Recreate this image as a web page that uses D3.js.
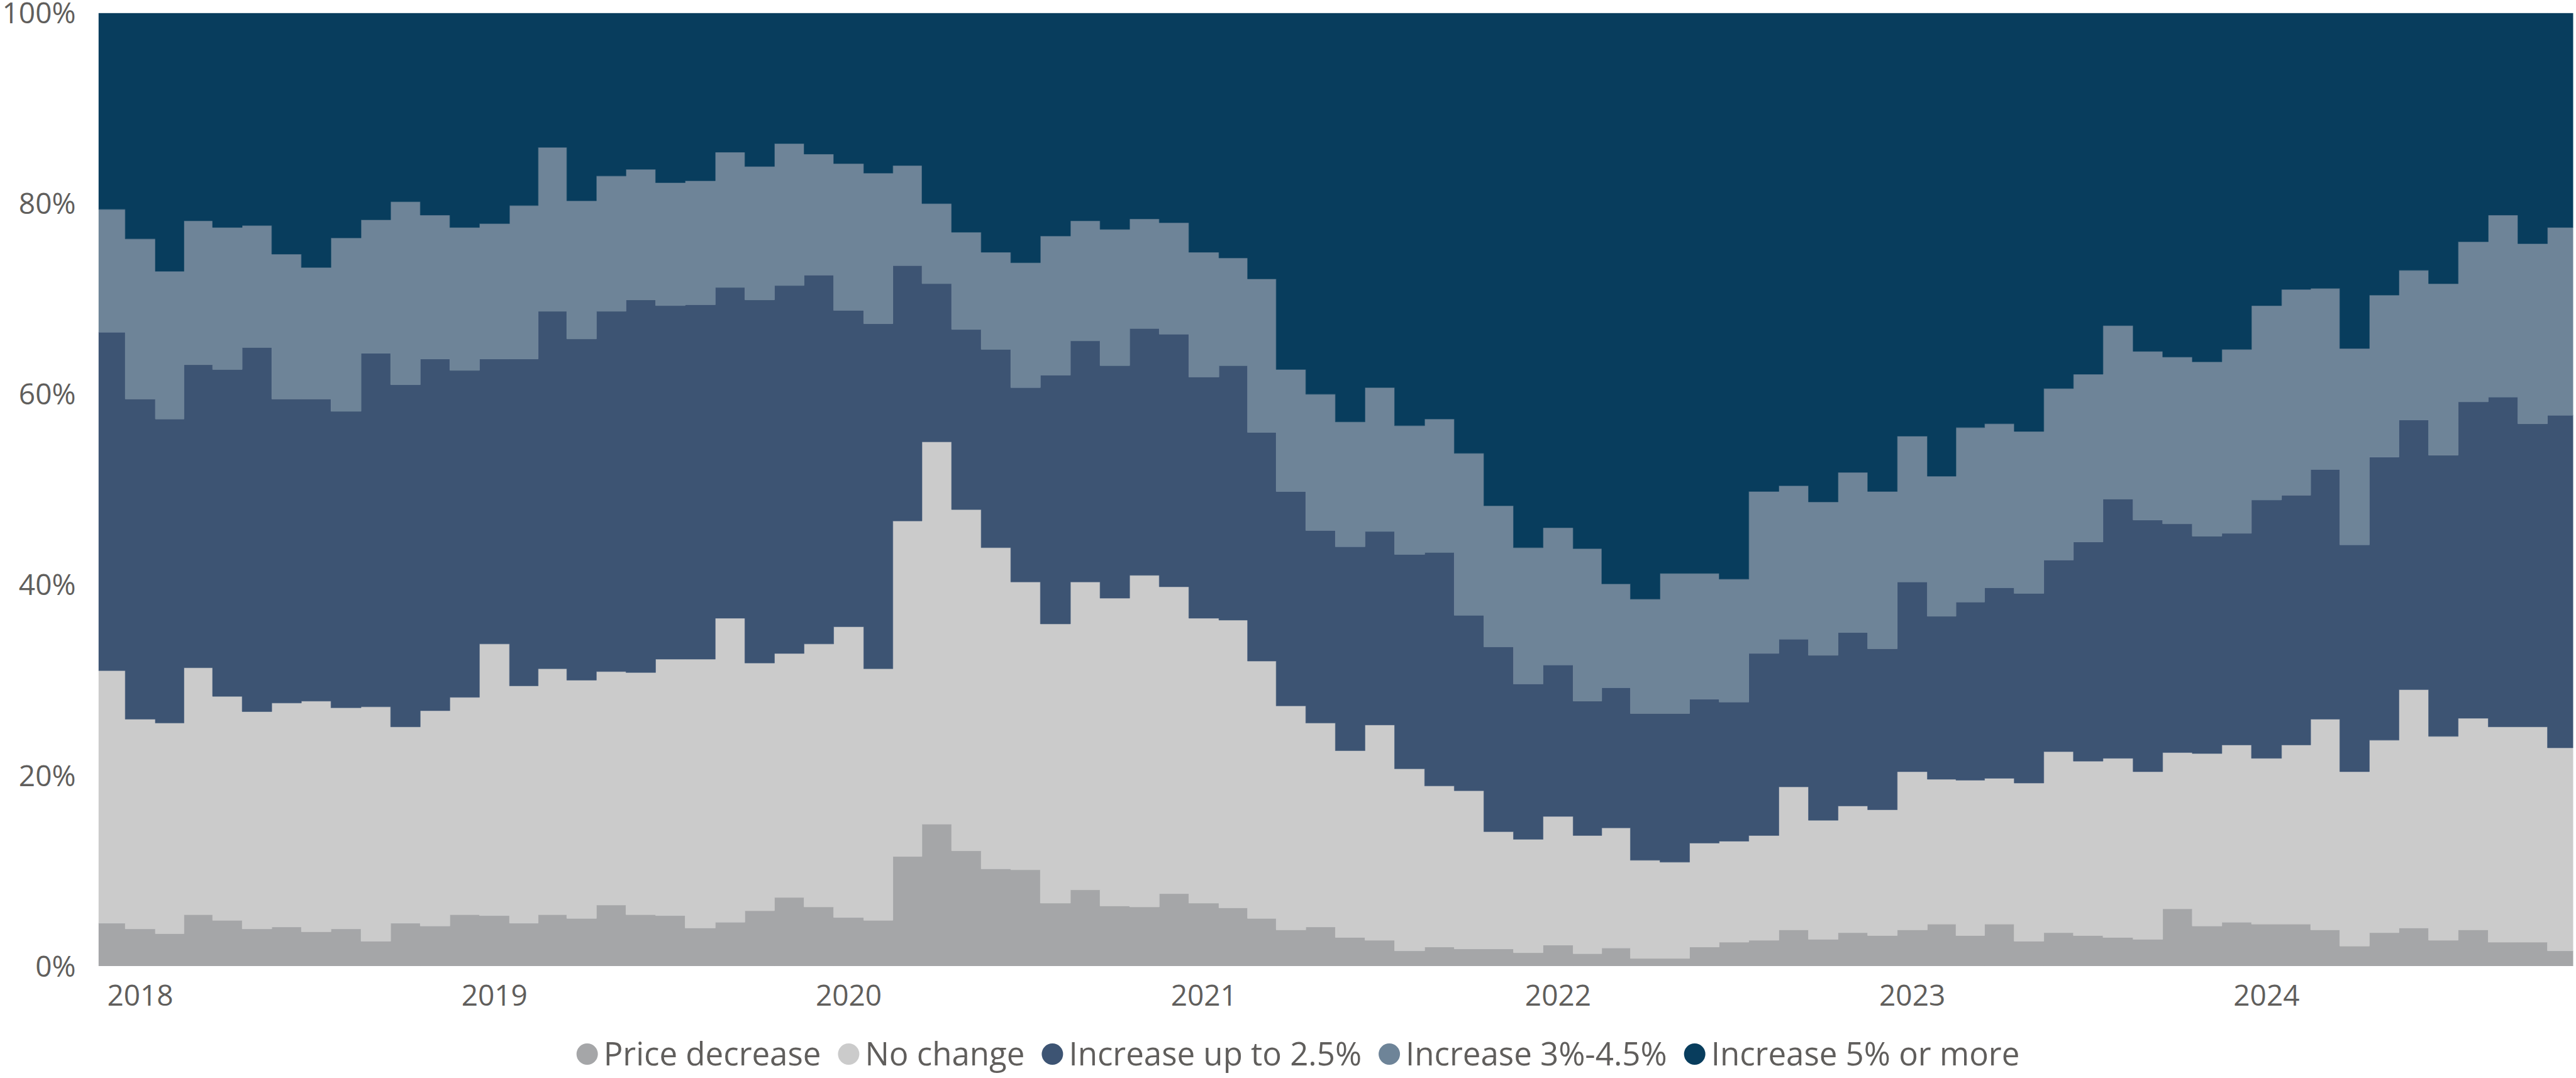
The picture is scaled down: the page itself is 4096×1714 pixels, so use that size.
<!DOCTYPE html>
<html>
<head>
<meta charset="utf-8">
<script src="https://cdn.jsdelivr.net/npm/d3@7"></script>
<style>
  body { margin: 0; background: #fff; }
  svg text { font-family: "Open Sans", "Noto Sans", sans-serif; fill: #605e5c; }
</style>
</head>
<body>
<svg id="chart" width="4096" height="1714"></svg>
<script>
// monthly shares (%), Dec 2017 .. Nov 2024
var firstMonth = '2017-12-01'
var lastMonth = '2024-11-01'

var priceDecrease = [4.5,3.9,3.4,5.4,4.8,3.9,4.1,3.6,3.9,2.6, 4.5,4.2,5.4,5.3,4.5,5.4,5.0,6.4,5.4,5.3,
	4.0,4.6,5.8,7.2,6.2,5.1,4.8,11.5,14.9,12.1, 10.2,10.1,6.6,8.0,6.3,6.2,7.6,6.6,6.1,5.0,
	3.8,4.1,3.0,2.7,1.6,2.0,1.8,1.8,1.4,2.2, 1.3,1.9,0.8,0.8,2.0,2.5,2.7,3.8,2.8,3.5,
	3.2,3.8,4.4,3.2,4.4,2.6,3.5,3.2,3.0,2.8, 6.0,4.2,4.6,4.4,4.4,3.8,2.1,3.5,4.0,2.7,
	3.8,2.5,2.5,1.6]
var noChange = [26.5,22.0,22.1,25.9,23.5,22.8,23.5,24.2,23.2,24.6, 20.6,22.6,22.8,28.5,24.9,25.8,25.0,24.5,25.4,26.9,
	28.2,31.9,26.0,25.6,27.6,30.5,26.4,35.2,40.1,35.8, 33.7,30.2,29.3,32.3,32.3,34.8,32.2,29.9,30.2,27.0,
	23.5,21.4,19.6,22.6,19.1,16.9,16.6,12.3,11.9,13.5, 12.4,12.6,10.3,10.1,10.9,10.6,11.0,15.0,12.5,13.3,
	13.2,16.6,15.2,16.3,15.3,16.6,19.0,18.3,18.8,17.6, 16.4,18.1,18.6,17.4,18.8,22.1,18.3,20.2,25.0,21.4,
	22.2,22.6,22.6,21.3]
var upTo25 = [35.5,33.6,31.9,31.8,34.3,38.2,31.9,31.7,31.1,37.1, 35.9,36.9,34.3,29.9,34.3,37.5,35.8,37.8,39.1,37.1,
	37.2,34.7,38.1,38.6,38.7,33.2,36.2,26.8,16.6,18.9, 20.8,20.4,26.1,25.3,24.4,25.9,26.5,25.3,26.7,24.0,
	22.5,20.2,21.4,20.3,22.5,24.5,18.4,19.4,16.3,15.9, 14.1,14.7,15.4,15.6,15.1,14.6,19.1,15.5,17.3,18.2,
	16.9,19.9,17.1,18.7,20.0,19.9,20.1,23.0,27.2,26.4, 24.0,22.8,22.2,27.1,26.2,26.2,23.8,29.7,28.3,29.5,
	33.2,34.6,31.8,34.9]
var inc3to45 = [12.9,16.8,15.5,15.1,14.9,12.8,15.2,13.8,18.2,14.0, 19.2,15.1,15.0,14.2,16.1,17.2,14.5,14.2,13.7,12.9,
	13.0,14.2,14.0,14.9,12.7,15.4,15.8,10.5,8.4,10.2, 10.2,13.1,14.6,12.6,14.3,11.5,11.7,13.1,11.3,16.1,
	12.8,14.3,13.1,15.1,13.5,14.0,17.0,14.8,14.3,14.4, 16.0,10.9,12.0,14.7,13.2,12.9,17.0,16.1,16.1,16.8,
	16.5,15.3,14.7,18.3,17.2,17.0,18.0,17.6,18.2,17.7, 17.5,18.3,19.3,20.4,21.6,19.0,20.6,17.0,15.7,18.0,
	16.8,19.1,18.9,19.7]
var inc5plus = [20.6,23.7,27.1,21.8,22.5,22.3,25.3,26.7,23.6,21.7, 19.8,21.2,22.5,22.1,20.2,14.1,19.7,17.1,16.4,17.8,
	17.6,14.6,16.1,13.7,14.8,15.8,16.8,16.0,20.0,23.0, 25.1,26.2,23.4,21.8,22.7,21.6,22.0,25.1,25.7,27.9,
	37.4,40.0,42.9,39.3,43.3,42.6,46.2,51.7,56.1,54.0, 56.2,59.9,61.5,58.8,58.8,59.4,50.2,49.6,51.3,48.2,
	50.2,44.4,48.6,43.5,43.1,43.9,39.4,37.9,32.8,35.5, 36.1,36.6,35.3,30.7,29.0,28.9,35.2,29.6,27.0,28.4,
	24.0,21.2,24.2,22.5]

var seriesNames = ['Price decrease', 'No change', 'Increase up to 2.5%', 'Increase 3%-4.5%', 'Increase 5% or more']
var seriesValues = [priceDecrease, noChange, upTo25, inc3to45, inc5plus]
var seriesColors = ['#a5a6a8', '#cbcbcb', '#3d5473', '#6e8498', '#083d5d']
var yTicks = [0, 0.2, 0.4, 0.6, 0.8, 1]
var yearLabels = ['2018', '2019', '2020', '2021', '2022', '2023', '2024']

var parse = d3.utcParse('%Y-%m-%d')
var months = d3.utcMonth.range(parse(firstMonth), d3.utcDay.offset(parse(lastMonth), 1))

var rows = months.map(function (m, i) {
	var r = { date: m }
	seriesNames.forEach(function (s, j) { r[s] = seriesValues[j][i] })
	return r
})

var svg = d3.select('#chart')
var plotLeft = 156.7, plotRight = 4091.5, plotTop = 20.7, plotBottom = 1536

var x = d3.scaleUtc()
	.domain([parse('2017-11-19'), parse('2024-11-12')])
	.range([plotLeft, plotRight])
var y = d3.scaleLinear()
	.domain([0, 1])
	.range([plotBottom, plotTop])

// carry first and last month out to the plot edges
var padded = [Object.assign({}, rows[0], { date: x.domain()[0] })]
	.concat(rows)
	.concat([Object.assign({}, rows[rows.length - 1], { date: x.domain()[1] })])

var stack = d3.stack()
	.keys(seriesNames)
	.offset(d3.stackOffsetExpand)
var layers = stack(padded)

svg.append('clipPath').attr('id', 'plotclip')
	.append('rect')
	.attr('x', plotLeft).attr('y', plotTop)
	.attr('width', plotRight - plotLeft).attr('height', plotBottom - plotTop)

var area = d3.area()
	.curve(d3.curveStep)
	.x(function (d) { return x(d.data.date) })
	.y0(function (d) { return y(d[0]) })
	.y1(function (d) { return y(d[1]) })

svg.append('g')
	.attr('clip-path', 'url(#plotclip)')
	.selectAll('path')
	.data(layers)
	.enter()
	.append('path')
	.attr('d', area)
	.style('fill', function (d, i) { return seriesColors[i] })
	.style('stroke', function (d, i) { return seriesColors[i] })
	.style('stroke-width', 0.6)

// y labels
svg.append('g')
	.selectAll('text')
	.data(yTicks)
	.enter()
	.append('text')
	.attr('x', 120.5)
	.attr('y', function (d) { return y(d) })
	.attr('dy', '0.36em')
	.attr('text-anchor', 'end')
	.style('font-size', '46px')
	.text(d3.format('.0%'))

// year labels
svg.append('g')
	.selectAll('text')
	.data(yearLabels)
	.enter()
	.append('text')
	.attr('x', function (d) { return x(parse(d + '-01-01')) })
	.attr('y', 1582)
	.attr('dy', '0.36em')
	.attr('text-anchor', 'middle')
	.style('font-size', '46px')
	.text(function (d) { return d })

// legend
var legend = svg.append('g')
var r = 17, gapText = 9, gapItem = 27, cursor = 0
seriesNames.forEach(function (s, i) {
	var g = legend.append('g').attr('transform', 'translate(' + cursor + ',0)')
	g.append('circle')
		.attr('cx', r).attr('cy', 0).attr('r', r)
		.style('fill', seriesColors[i])
	var t = g.append('text')
		.attr('x', 2 * r + gapText)
		.attr('y', 0)
		.attr('dy', '0.36em')
		.style('font-size', '51px')
		.text(s)
	cursor += 2 * r + gapText + t.node().getComputedTextLength() + gapItem
})
var legendWidth = cursor - gapItem
legend.attr('transform', 'translate(' + (2064 - legendWidth / 2) + ',1676)')
</script>
</body>
</html>
